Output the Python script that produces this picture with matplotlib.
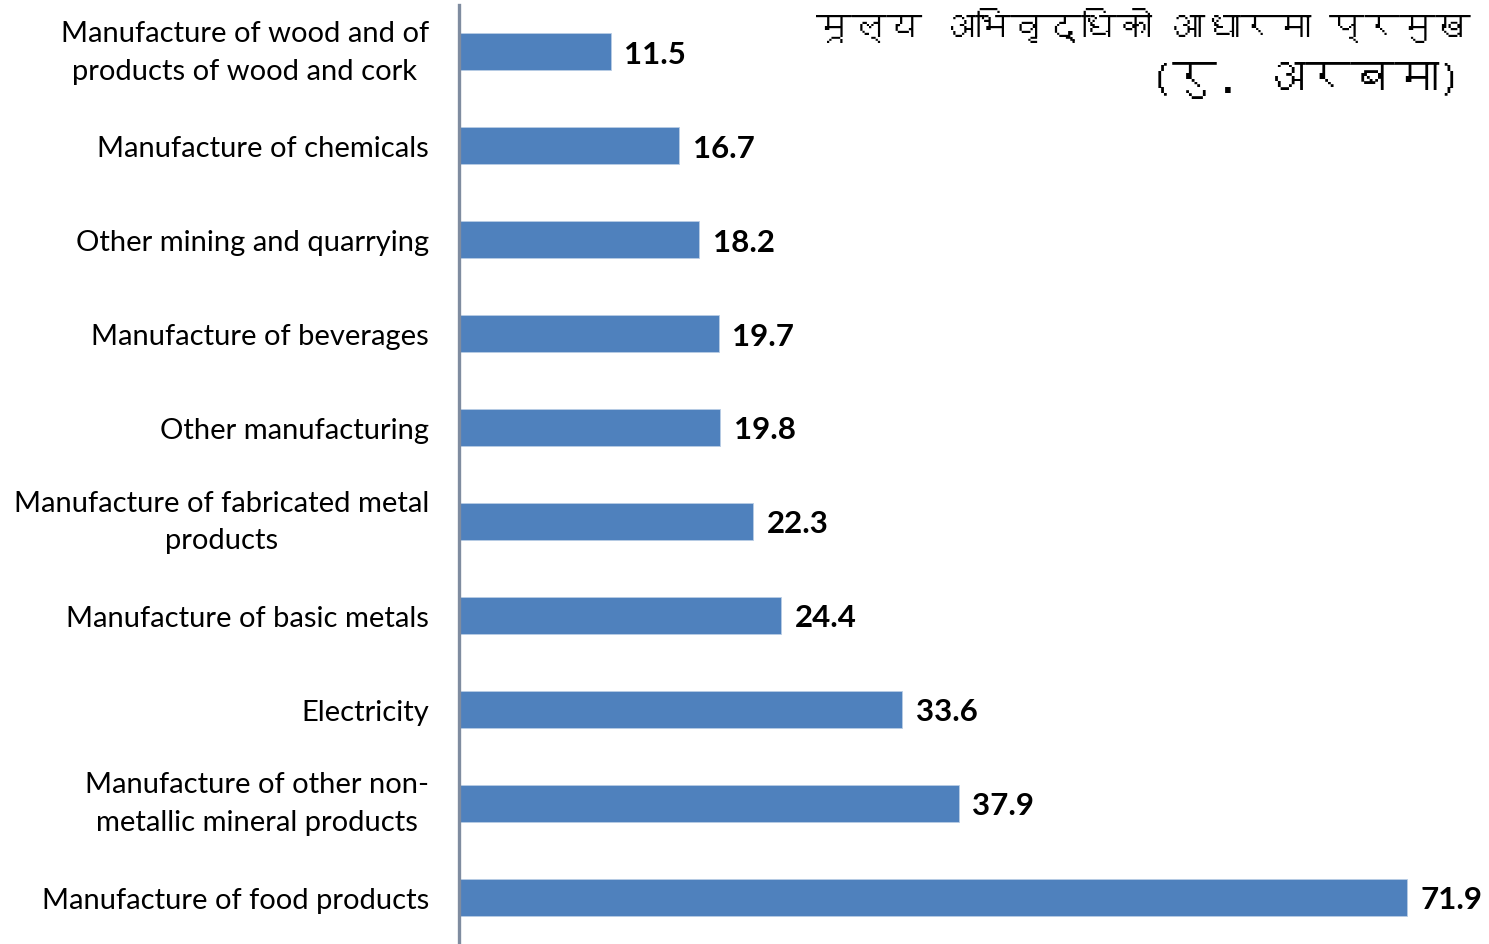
import matplotlib
matplotlib.use("Agg")
import matplotlib.pyplot as plt
from matplotlib import font_manager
from matplotlib.ft2font import FT2Font

categories = [
    "Manufacture of wood and of\nproducts of wood and cork",
    "Manufacture of chemicals",
    "Other mining and quarrying",
    "Manufacture of beverages",
    "Other manufacturing",
    "Manufacture of fabricated metal\nproducts",
    "Manufacture of basic metals",
    "Electricity",
    "Manufacture of other non-\nmetallic mineral products",
    "Manufacture of food products",
]
values = [11.5, 16.7, 18.2, 19.7, 19.8, 22.3, 24.4, 33.6, 37.9, 71.9]
title_line1 = "मूल्य अभिवृद्धिको आधारमा प्रमुख"
title_line2 = "(रु. अरबमा)"

# find a font with Devanagari glyphs, if any
deva_family = None
for fe in font_manager.fontManager.ttflist:
    try:
        f = FT2Font(fe.fname)
        cmap = f.get_charmap()
        if 0x092E in cmap and 0x0942 in cmap:
            deva_family = fe.name
            break
    except Exception:
        pass
title_fams = ([deva_family] if deva_family else []) + ["DejaVu Sans"]

label_font = "Lato"
bar_color = "#4F81BD"

fig = plt.figure(figsize=(14.89, 9.45), dpi=100)
ax = fig.add_axes([459 / 1489, 0, 1 - 459 / 1489, 1 - 6 / 945])

y = list(range(len(values)))
ax.barh(y, values, height=0.395, color=bar_color, edgecolor="#B9CDE5", linewidth=0.6)
ax.set_ylim(len(values) - 0.5, -0.5)
ax.set_xlim(0, 1030 / 13.18)

for yi, v in zip(y, values):
    ax.text(v + 1.05, yi + 0.02, f"{v:.1f}", va="center", ha="left",
            fontsize=22.5, fontweight="bold", family=label_font, color="black")

ax.set_yticks(y)
ax.set_yticklabels(categories, fontsize=21, family=label_font)
for lbl in ax.get_yticklabels():
    lbl.set_horizontalalignment("right")
    if "\n" in lbl.get_text():
        lbl.set_verticalalignment("center")
    else:
        lbl.set_verticalalignment("center_baseline")
    lbl.set_multialignment("center")
    lbl.set_linespacing(1.55)
ax.tick_params(axis="y", length=0, pad=30 / 100 * 72)
ax.set_xticks([])
for s in ["top", "right", "bottom"]:
    ax.spines[s].set_visible(False)
ax.spines["left"].set_color("#7F8CA0")
ax.spines["left"].set_linewidth(2.4)

fig.text(816 / 1489, 1 - 8 / 945, title_line1, ha="left", va="top",
         fontsize=25.5, fontweight="bold", family=title_fams)
fig.text(1462 / 1489, 1 - 62 / 945, title_line2, ha="right", va="top",
         fontsize=32, fontweight="bold", family=title_fams)

fig.savefig("out.png", dpi=100)
